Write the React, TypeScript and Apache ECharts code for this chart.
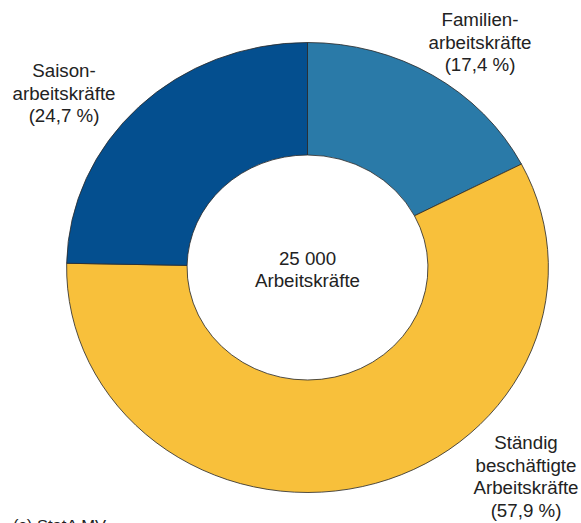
import React, { useEffect, useRef } from "react";
import * as echarts from "echarts";

const categories = ["Familien-\narbeitskräfte", "Ständig\nbeschäftigte\nArbeitskräfte", "Saison-\narbeitskräfte"];
const shares = [17.4, 57.9, 24.7];
const colors = ["#2a7aa8", "#f8c03b", "#044f8f"];
const totalLabel = "25 000\nArbeitskräfte";
const sourceLabel = "(c) StatA MV";

// the reference is stretched horizontally
const SX = 1.0706;
const W = 581;
const H = 523;
const CW = W / SX;

// label anchor positions in reference pixels (centre x, centre y)
const labelPos = [
  [480, 43],
  [526, 477],
  [64, 94],
];

const fmt = (v: number) => "(" + v.toFixed(1).replace(".", ",") + " %)";

export default function App() {
  const ref = useRef<HTMLDivElement>(null);
  useEffect(() => {
    if (!ref.current) return;
    const chart = echarts.init(ref.current, undefined, { renderer: "svg" });
    const font = "'Liberation Sans', Arial, Helvetica, sans-serif";
    const cx = 307.5 / SX;
    const cy = 267.5;
    const labels = categories.map((c, i) => ({
      type: "text",
      x: labelPos[i][0] / SX,
      y: labelPos[i][1],
      style: {
        text: c + "\n" + fmt(shares[i]),
        fill: "#222",
        font: "17.5px " + font,
        fontSize: 17.5,
        fontFamily: font,
        lineHeight: 22.5,
        align: "center",
        verticalAlign: "middle",
      },
    }));
    chart.setOption({
      animation: false,
      backgroundColor: "#fff",
      series: [
        {
          type: "pie",
          center: [cx, cy],
          radius: [112.5, 225],
          startAngle: 90,
          clockwise: true,
          silent: true,
          label: { show: false },
          labelLine: { show: false },
          itemStyle: { borderColor: "#2b2b2b", borderWidth: 0.8 },
          data: categories.map((c, i) => ({
            name: c,
            value: shares[i],
            itemStyle: { color: colors[i] },
          })),
        },
      ],
      graphic: [
        ...labels,
        {
          type: "text",
          x: cx,
          y: 270,
          style: {
            text: totalLabel,
            fill: "#222",
            fontSize: 17.5,
            fontFamily: font,
            lineHeight: 22,
            align: "center",
            verticalAlign: "middle",
          },
        },
        {
          type: "text",
          x: 13 / SX,
          y: 516,
          style: {
            text: sourceLabel,
            fill: "#222",
            fontSize: 15.5,
            fontFamily: font,
            align: "left",
            verticalAlign: "top",
          },
        },
      ],
    });
    return () => chart.dispose();
  }, []);
  return (
    <div style={{ position: "fixed", left: 0, top: 0, width: W, height: H, overflow: "hidden", background: "#fff" }}>
      <div
        ref={ref}
        style={{ width: CW, height: H, transform: `scaleX(${SX})`, transformOrigin: "0 0" }}
      />
    </div>
  );
}
